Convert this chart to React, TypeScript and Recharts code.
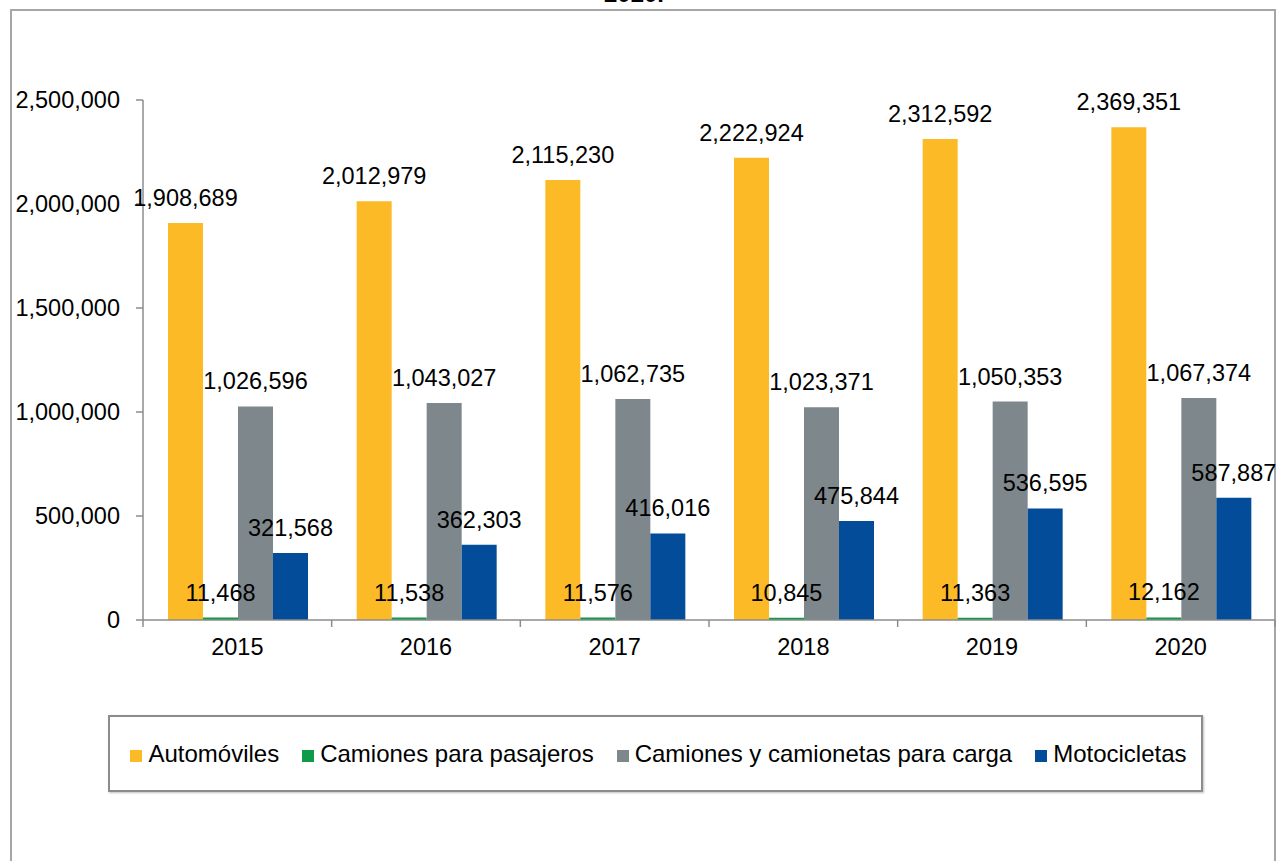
import { BarChart, Bar, XAxis, YAxis } from "recharts";

const years = ["2015", "2016", "2017", "2018", "2019", "2020"];
const automoviles = [1908689, 2012979, 2115230, 2222924, 2312592, 2369351];
const camionesPasajeros = [11468, 11538, 11576, 10845, 11363, 12162];
const camionesCarga = [1026596, 1043027, 1062735, 1023371, 1050353, 1067374];
const motocicletas = [321568, 362303, 416016, 475844, 536595, 587887];
const yTicks = [0, 500000, 1000000, 1500000, 2000000, 2500000];

const series = [
  { key: "automoviles", name: "Automóviles", color: "#FBBA26" },
  { key: "pasajeros", name: "Camiones para pasajeros", color: "#0F9A47" },
  { key: "carga", name: "Camiones y camionetas para carga", color: "#7E878C" },
  { key: "motos", name: "Motocicletas", color: "#034C99" },
];

const data = years.map((year, i) => ({
  year,
  automoviles: automoviles[i],
  pasajeros: camionesPasajeros[i],
  carga: camionesCarga[i],
  motos: motocicletas[i],
}));

const FONT = '"Liberation Sans", Arial, sans-serif';
const FS = 23.5;
const AXIS = "#8C8C8C";
const fmt = (v: number) => v.toLocaleString("en-US");

// value label centred ~25px above the top of each bar
const renderLabel = (props: any) => {
  const { x, y, width, value } = props;
  return (
    <text
      x={Number(x) + Number(width) / 2}
      y={Number(y) - 25}
      textAnchor="middle"
      dominantBaseline="central"
      fill="#000"
      fontSize={FS}
      fontFamily={FONT}
    >
      {fmt(Number(value))}
    </text>
  );
};

// category label plus tick marks on the category boundaries (Excel style)
const CategoryTick = (props: any) => {
  const { x, y, payload, index } = props;
  const half = payload?.offset ?? (1275 - 143) / years.length / 2;
  return (
    <g>
      <line x1={x - half} x2={x - half} y1={y} y2={y + 7} stroke={AXIS} strokeWidth={1.5} />
      {index === years.length - 1 && (
        <line x1={x + half} x2={x + half} y1={y} y2={y + 7} stroke={AXIS} strokeWidth={1.5} />
      )}
      <text
        x={x}
        y={y + 27}
        textAnchor="middle"
        dominantBaseline="central"
        fill="#000"
        fontSize={FS}
        fontFamily={FONT}
      >
        {payload.value}
      </text>
    </g>
  );
};

export default function App() {
  return (
    <div
      style={{
        position: "fixed",
        left: 0,
        top: 0,
        width: 1278,
        height: 861,
        background: "#fff",
        overflow: "hidden",
        fontFamily: FONT,
      }}
    >
      {/* outer chart frame, runs off the right and bottom edge */}
      <div
        style={{
          position: "absolute",
          left: 10,
          top: 9,
          width: 1266,
          height: 900,
          border: "2px solid #A6A6A6",
          boxSizing: "border-box",
        }}
      />
      {/* title, mostly cut off at the top */}
      <div
        style={{
          position: "absolute",
          left: 0,
          width: 1278,
          top: -18,
          textAlign: "center",
          fontWeight: "bold",
          fontSize: 24,
          lineHeight: "24px",
        }}
      >
        <span style={{ position: "relative", left: -5 }}>2020.</span>
      </div>

      <div style={{ position: "absolute", left: 0, top: 0 }}>
        <BarChart
          width={1278}
          height={861}
          data={data}
          margin={{ top: 100, right: 3, left: 0, bottom: 201 }}
          barCategoryGap={25}
          barGap={0}
        >
          <XAxis
            dataKey="year"
            height={40}
            tickLine={false}
            tickSize={0}
            tickMargin={0}
            axisLine={{ stroke: AXIS, strokeWidth: 1.5 }}
            tick={<CategoryTick />}
            interval={0}
          />
          <YAxis
            width={143}
            domain={[0, 2500000]}
            ticks={yTicks}
            allowDataOverflow
            tickFormatter={fmt}
            tickSize={7}
            tickMargin={16}
            axisLine={{ stroke: AXIS, strokeWidth: 1.5 }}
            tickLine={{ stroke: AXIS, strokeWidth: 1.5 }}
            tick={{ fill: "#000", fontSize: FS, fontFamily: FONT }}
          />
          {series.map((s) => (
            <Bar
              key={s.key}
              dataKey={s.key}
              name={s.name}
              fill={s.color}
              isAnimationActive={false}
              label={renderLabel}
            />
          ))}
        </BarChart>
      </div>

      {/* legend */}
      <div
        style={{
          position: "absolute",
          left: 108,
          top: 715,
          width: 1095,
          height: 77,
          border: "2px solid #8C8C8C",
          boxShadow: "1px 1px 2px rgba(0,0,0,0.25)",
          boxSizing: "border-box",
          display: "flex",
          alignItems: "center",
          justifyContent: "center",
          gap: 23,
          paddingLeft: 6,
        }}
      >
        {series.map((s) => (
          <div key={s.key} style={{ display: "flex", alignItems: "center" }}>
            <span
              style={{
                display: "inline-block",
                width: 12,
                height: 12,
                background: s.color,
                marginRight: 6,
                marginTop: 4,
              }}
            />
            <span style={{ fontSize: 24, color: "#000", lineHeight: "26px" }}>{s.name}</span>
          </div>
        ))}
      </div>
    </div>
  );
}
